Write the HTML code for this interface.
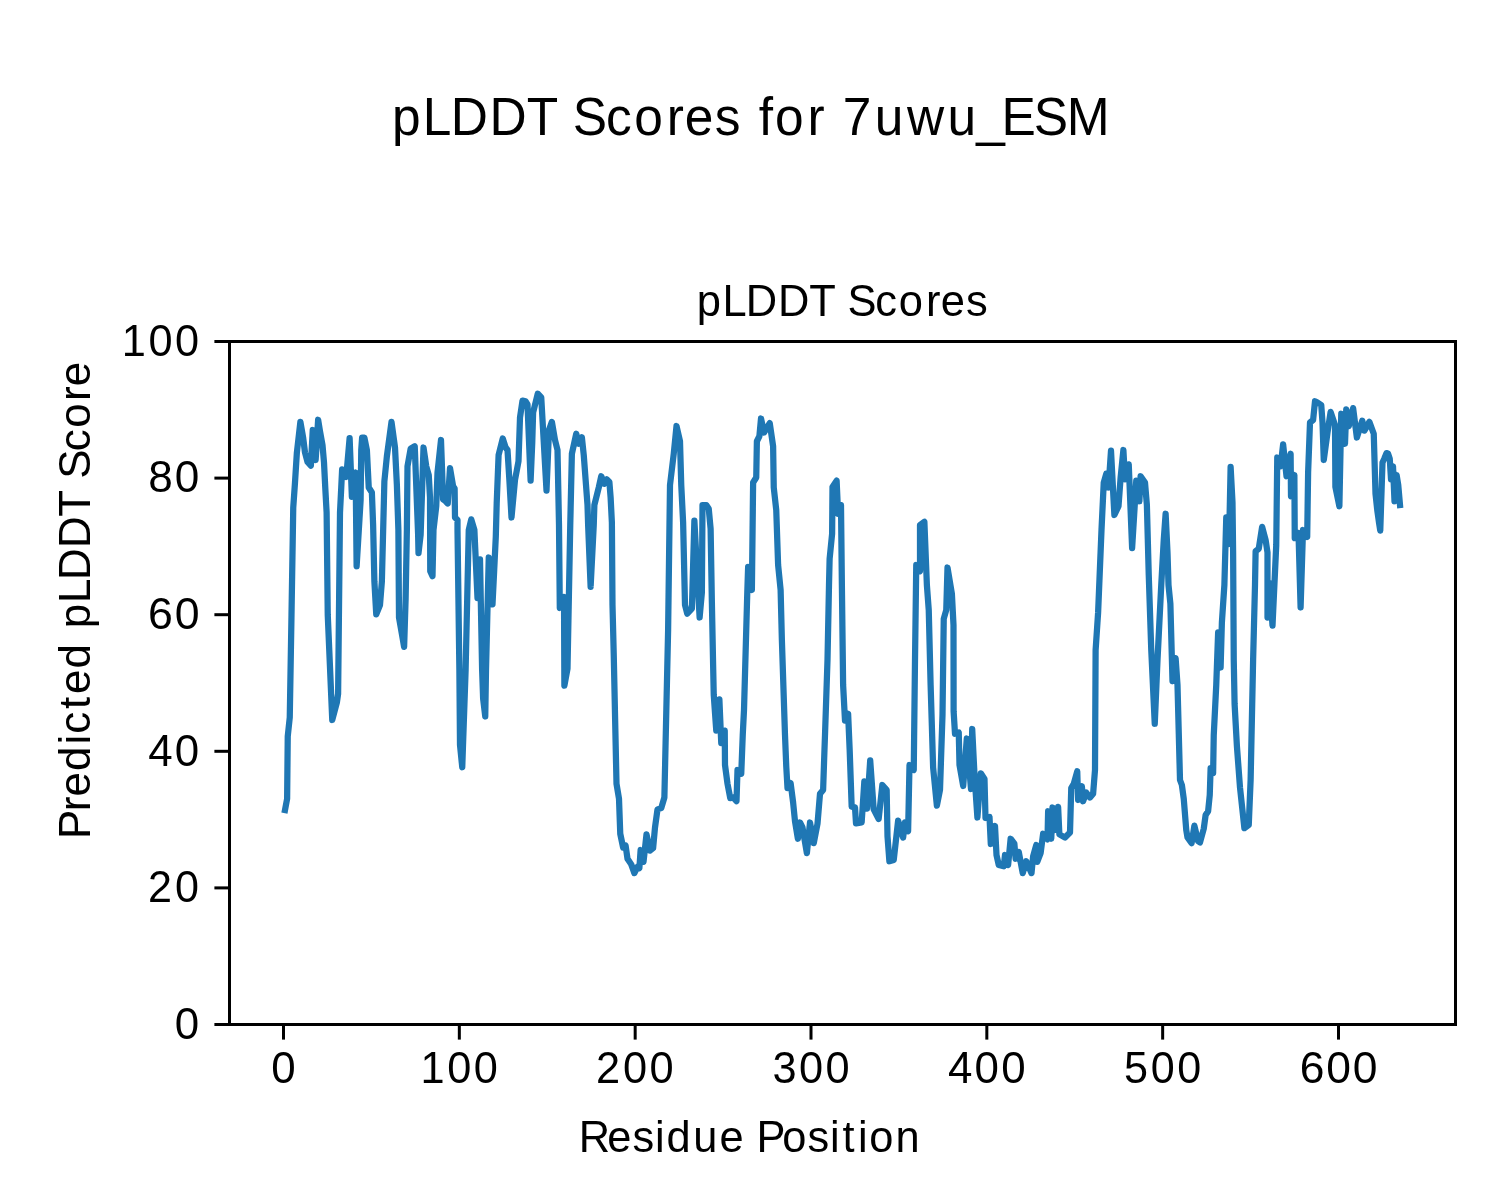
<!DOCTYPE html>
<html><head><meta charset="utf-8"><title>pLDDT Scores for 7uwu_ESM</title><style>
html,body{margin:0;padding:0;background:#fff;overflow:hidden;}
svg{display:block;}
text{font-family:"Liberation Sans",sans-serif;fill:#000;}
.t{will-change:transform;}
</style></head><body>
<svg class="t" width="1500" height="1200" viewBox="0 0 1500 1200">
<rect width="1500" height="1200" fill="#fff"/>
<polyline points="285.00,810.00 287.12,798.75 287.75,736.25 289.75,717.50 291.50,615.00 293.25,507.50 295.00,482.50 296.88,452.50 300.38,421.88 303.12,437.50 305.00,452.50 307.50,461.88 310.88,465.62 312.75,430.00 314.00,452.50 315.62,460.00 316.88,441.25 318.12,419.75 320.00,431.25 322.50,445.00 324.00,462.50 325.25,487.50 326.62,512.50 327.75,615.00 332.25,720.00 336.88,702.50 338.12,693.75 340.00,512.50 341.25,487.50 342.12,469.38 346.25,476.88 349.62,438.12 351.88,496.88 355.62,472.50 356.62,566.25 360.62,500.00 361.25,450.00 362.12,437.50 364.38,437.50 366.88,450.00 368.75,487.50 371.88,492.50 373.12,525.00 374.38,581.25 376.25,614.38 380.00,605.00 381.88,581.25 384.38,481.25 386.88,456.25 391.50,421.88 395.00,447.50 396.88,485.00 398.38,530.00 399.00,617.50 402.50,637.50 404.12,646.88 405.62,598.75 406.88,530.00 407.50,466.25 410.62,448.75 414.75,446.25 418.12,535.00 418.50,553.12 420.62,535.00 423.50,447.50 426.25,466.25 428.75,475.00 430.00,497.50 430.25,571.25 432.50,576.25 433.50,530.00 436.25,506.25 437.50,472.50 441.00,440.00 443.12,499.38 445.00,500.62 447.75,503.50 450.00,468.12 453.12,486.25 454.62,488.50 455.00,517.50 457.50,520.00 457.50,530.00 459.38,670.00 460.00,745.00 462.25,767.25 465.62,670.00 468.75,530.00 471.25,519.38 474.38,530.00 477.50,598.12 480.00,559.38 482.12,670.00 483.12,698.75 485.25,716.50 486.00,670.00 488.75,557.50 492.50,604.38 494.20,570.00 495.80,536.70 496.70,503.30 498.00,470.00 498.60,455.00 502.75,438.50 505.62,447.50 507.50,450.00 509.38,480.00 511.50,517.50 515.00,480.00 518.50,461.25 520.00,417.50 522.50,400.62 525.62,401.25 527.50,404.38 530.62,480.62 532.25,442.50 533.12,412.50 537.75,393.75 541.25,397.50 546.50,490.62 549.00,430.00 551.88,421.88 555.00,440.00 557.50,450.00 559.00,525.00 559.80,608.00 564.00,597.00 564.38,685.62 567.50,668.75 570.25,525.00 571.88,453.75 576.25,433.75 578.75,443.75 581.88,437.25 583.75,455.00 587.50,505.00 588.12,525.00 590.62,586.88 593.75,525.00 594.38,505.00 598.75,487.50 601.25,476.25 604.38,483.75 606.88,479.38 609.38,481.88 610.62,497.50 611.88,522.50 612.50,605.00 613.75,655.00 616.50,783.75 619.00,798.75 620.25,833.75 623.12,847.50 625.62,845.62 627.50,858.75 631.25,864.38 634.38,873.12 637.50,866.88 639.38,868.12 640.62,850.00 643.50,861.88 646.50,834.38 650.00,850.62 653.12,848.12 655.00,827.50 657.50,809.38 661.25,808.12 664.38,797.50 668.12,630.00 670.00,485.00 673.75,453.75 676.50,426.00 680.00,441.25 681.25,485.00 683.12,522.50 685.00,605.00 687.25,613.75 691.88,608.75 694.38,520.62 699.62,617.50 701.88,592.50 702.50,505.00 706.25,505.00 708.75,508.75 710.62,528.75 711.88,602.50 713.12,665.00 713.75,695.00 716.25,730.62 719.38,699.38 721.25,743.12 724.75,730.62 725.00,765.00 727.50,783.75 730.25,798.12 733.12,797.50 736.50,801.25 737.50,770.00 741.25,773.75 742.75,735.00 744.00,710.00 747.25,593.75 748.12,566.88 751.88,590.00 753.12,482.50 756.25,477.50 756.88,441.25 759.38,436.25 761.00,418.50 764.00,432.50 769.75,423.12 773.12,446.25 773.75,487.50 776.25,510.00 778.12,565.00 780.62,590.00 781.88,640.00 785.00,735.00 786.25,766.25 787.50,788.12 790.62,783.12 793.12,802.50 795.00,821.25 797.88,838.75 800.00,822.50 802.50,827.50 806.88,853.12 810.00,822.50 813.75,843.12 817.50,823.75 820.00,793.75 823.12,790.00 824.38,752.50 825.00,735.00 827.50,660.00 829.00,585.00 829.62,558.75 832.12,533.75 832.50,486.88 836.62,480.62 838.12,513.75 841.00,505.00 841.88,585.00 843.12,685.00 845.00,720.62 848.12,713.75 849.67,750.00 851.67,806.67 855.00,807.33 856.00,823.33 861.67,822.33 864.33,781.33 867.00,808.67 870.20,760.33 873.67,809.33 878.67,819.00 882.33,785.00 885.00,788.00 886.67,790.00 887.50,836.25 889.38,861.25 893.75,860.00 898.12,820.62 903.12,837.50 905.00,822.50 908.12,831.25 909.50,765.00 913.75,770.00 915.00,660.00 916.25,565.00 920.00,571.25 920.00,525.00 924.38,521.88 926.88,585.00 928.75,610.00 930.62,685.00 933.12,767.50 936.88,805.62 940.00,790.00 942.50,715.00 943.75,618.75 946.25,610.00 947.50,567.50 951.88,593.75 953.50,625.00 953.62,711.25 955.00,733.75 958.75,732.50 959.50,765.00 963.20,786.00 966.80,738.50 971.00,789.00 972.20,729.00 974.50,775.00 977.40,817.50 980.80,773.30 984.50,779.00 985.50,818.00 989.50,817.00 990.80,844.00 995.00,826.00 996.50,855.00 998.75,865.00 1003.75,866.25 1005.00,855.00 1008.12,865.00 1010.62,838.75 1014.38,843.75 1015.62,858.75 1018.75,851.88 1022.75,873.12 1026.25,861.25 1031.50,873.12 1033.12,856.25 1036.25,845.00 1037.25,861.88 1040.62,853.12 1043.12,833.75 1047.50,839.38 1048.12,811.25 1051.25,838.75 1052.50,807.50 1055.00,830.00 1058.12,806.88 1059.38,834.38 1065.00,837.50 1070.00,832.50 1071.25,788.12 1073.75,783.75 1077.25,771.25 1078.12,800.00 1081.88,786.25 1083.12,801.25 1086.25,792.50 1090.00,797.50 1093.12,793.75 1095.00,770.00 1095.62,650.00 1098.12,612.50 1101.50,530.00 1103.75,482.50 1106.25,473.75 1108.50,487.50 1111.00,450.62 1114.38,515.00 1118.50,506.25 1120.62,477.50 1123.38,450.00 1125.00,479.38 1128.75,464.38 1132.12,548.12 1136.25,480.62 1139.38,501.25 1140.62,476.25 1145.00,482.50 1146.88,505.00 1148.75,575.00 1151.25,650.00 1154.75,723.75 1157.50,660.00 1161.25,585.00 1163.75,540.00 1165.62,513.75 1167.50,552.50 1168.50,585.00 1170.38,603.75 1172.50,681.25 1175.62,658.12 1177.50,685.00 1180.00,780.00 1181.88,785.00 1183.75,798.75 1186.25,830.00 1187.50,837.50 1191.62,843.12 1194.38,825.62 1198.12,841.25 1200.00,842.50 1203.75,828.75 1205.62,815.00 1208.12,811.25 1209.75,795.00 1210.62,768.12 1213.12,773.12 1213.75,735.00 1216.25,685.00 1218.12,632.50 1220.62,667.50 1221.88,622.50 1224.38,585.00 1226.25,517.50 1229.00,544.00 1230.62,466.88 1232.50,502.50 1233.12,552.50 1233.75,660.00 1234.60,704.00 1236.90,746.00 1240.00,787.50 1244.38,828.12 1248.75,825.00 1250.62,780.00 1253.12,660.00 1255.00,585.00 1255.62,551.25 1258.75,548.75 1262.12,526.88 1265.62,540.00 1267.50,552.50 1267.50,617.50 1269.60,583.00 1272.50,625.62 1276.25,545.00 1277.25,457.50 1280.62,466.25 1283.12,444.38 1286.50,476.25 1290.62,453.75 1291.00,496.25 1294.38,475.00 1294.75,538.12 1298.50,533.00 1300.60,607.50 1303.00,530.00 1307.20,536.90 1308.12,472.50 1310.00,422.50 1313.12,420.00 1315.00,401.25 1317.50,402.50 1321.25,405.00 1322.50,422.50 1323.75,460.00 1327.50,432.50 1330.62,411.88 1335.00,425.00 1335.38,486.88 1339.38,506.25 1341.25,413.75 1345.00,443.75 1346.25,409.38 1348.75,426.25 1353.12,408.12 1356.88,437.50 1362.25,420.62 1364.38,430.62 1369.38,421.88 1373.75,433.75 1375.50,493.75 1377.25,510.00 1379.00,522.50 1380.25,530.62 1382.50,462.50 1384.25,458.75 1386.50,453.12 1388.00,453.50 1389.75,458.75 1391.00,479.38 1393.00,466.25 1394.50,501.25 1396.62,475.00 1398.25,485.00 1400.00,505.00" fill="none" stroke="#1f77b4" stroke-width="6.25" stroke-linejoin="round" stroke-linecap="square"/>
<g fill="#000">
<rect x="228" y="340" width="3" height="686"/>
<rect x="1454" y="340" width="3" height="686"/>
<rect x="228" y="340" width="1229" height="3"/>
<rect x="228" y="1023" width="1229" height="3"/>
<rect x="282.00" y="1024.5" width="3" height="15.1"/><rect x="457.83" y="1024.5" width="3" height="15.1"/><rect x="633.67" y="1024.5" width="3" height="15.1"/><rect x="809.50" y="1024.5" width="3" height="15.1"/><rect x="985.33" y="1024.5" width="3" height="15.1"/><rect x="1161.16" y="1024.5" width="3" height="15.1"/><rect x="1337.00" y="1024.5" width="3" height="15.1"/><rect x="214.4" y="1023.00" width="15.1" height="3"/><rect x="214.4" y="886.40" width="15.1" height="3"/><rect x="214.4" y="749.80" width="15.1" height="3"/><rect x="214.4" y="613.20" width="15.1" height="3"/><rect x="214.4" y="476.60" width="15.1" height="3"/><rect x="214.4" y="340.00" width="15.1" height="3"/>
</g>
<text transform="scale(0.9713,1)" x="403.68 435.23 464.10 503.87 542.39 566.07 589.76 623.89 653.02 686.36 704.87 735.95 758.53 781.11 797.97 831.32 849.52 867.73 900.53 933.71 975.51 1005.00 1031.04 1064.18 1098.19" y="134.70" font-size="52.98">pLDDT Scores for 7uwu_ESM</text>
<text transform="scale(0.9842,1)" x="708.03 733.99 757.72 790.46 822.20 841.69 861.17 889.31 913.27 940.76 955.95 981.56" y="315.90" font-size="44.15">pLDDT Scores</text>
<text transform="scale(0.9829,1)" x="588.78 617.83 643.48 666.34 678.12 705.31 732.09 750.92 769.75 795.82 821.47 844.34 857.25 872.88 884.44 911.05" y="1151.90" font-size="44.15">Residue Position</text>
<text transform="translate(90,1200) rotate(-90) scale(0.9945,1)" x="362.89 390.81 405.66 431.42 458.12 468.74 493.70 508.78 534.54 554.69 574.83 600.31 623.55 655.71 686.94 706.07 725.19 752.89 776.41 803.47 818.32" y="0" font-size="44.15">Predicted pLDDT Score</text>
<text transform="scale(0.9948,1)" x="272.69" y="1082.80" font-size="44.15">0</text>
<text transform="scale(0.9809,1)" x="428.72 455.97 482.99" y="1082.80" font-size="44.15">100</text>
<text transform="scale(0.9832,1)" x="606.19 633.71 660.67" y="1082.80" font-size="44.15">200</text>
<text transform="scale(0.9818,1)" x="786.84 813.78 840.78" y="1082.80" font-size="44.15">300</text>
<text transform="scale(0.9949,1)" x="952.98 979.63 1006.28" y="1082.80" font-size="44.15">400</text>
<text transform="scale(0.9763,1)" x="1151.31 1178.63 1205.78" y="1082.80" font-size="44.15">500</text>
<text transform="scale(1.0062,1)" x="1291.68 1318.02 1344.37" y="1082.80" font-size="44.15">600</text>
<text transform="scale(0.9948,1)" x="175.76" y="1038.80" font-size="44.15">0</text>
<text transform="scale(0.9773,1)" x="151.45 179.14" y="902.20" font-size="44.15">20</text>
<text transform="scale(0.9949,1)" x="149.10 175.75" y="765.60" font-size="44.15">40</text>
<text transform="scale(1.0119,1)" x="146.39 172.59" y="629.00" font-size="44.15">60</text>
<text transform="scale(1.0002,1)" x="148.26 174.76" y="492.40" font-size="44.15">80</text>
<text transform="scale(0.9809,1)" x="124.16 151.40 178.43" y="355.80" font-size="44.15">100</text>

</svg>
</body></html>
